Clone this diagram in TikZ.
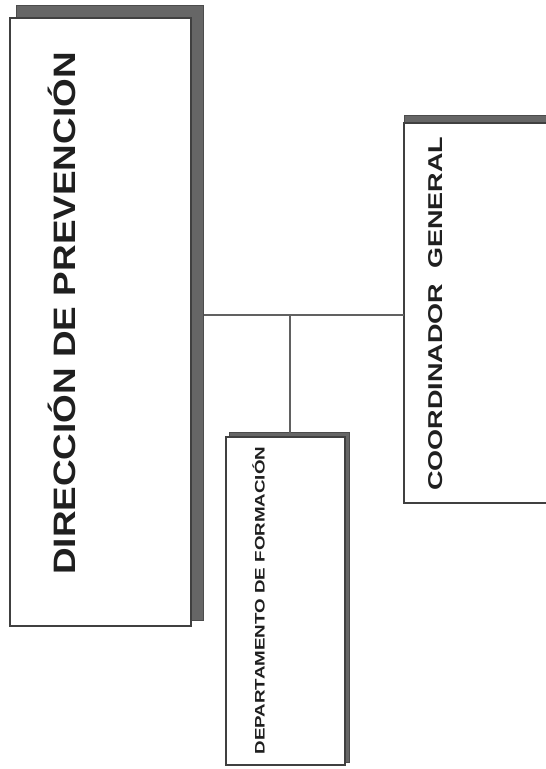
\documentclass[tikz,border=0pt]{standalone}
\usepackage{fontspec}
\setmainfont{Liberation Sans}
\begin{document}
\begin{tikzpicture}[x=1pt,y=-1pt,
  shadowbox/.style={fill=black!60, draw=black!70, line width=0.8pt},
  frontbox/.style={fill=white, draw=black!75, line width=1.2pt},
  conn/.style={draw=black!62, line width=1.5pt},
  lbl/.style={rotate=90, anchor=base, inner sep=0pt, font=\bfseries, text=black!88}]
\useasboundingbox (0,0) rectangle (546,769);
% Direccion box
\fill[shadowbox] (16,5) rectangle (203,620);
\draw[frontbox] (10,18) rectangle (191,626);
\node[lbl] (dirtxt) at (75,313.5) {\scalebox{1.19}[1]{\fontsize{31}{31}\selectfont DIRECCIÓN DE PREVENCIÓN}};
% Departamento box
\fill[shadowbox] (229,432) rectangle (349,762);
\draw[frontbox] (226,437) rectangle (345,765);
\node[lbl] (deptxt) at (264.5,600.5) {\scalebox{1.36}[1]{\fontsize{13.8}{14}\selectfont DEPARTAMENTO DE FORMACIÓN}};
% Coordinador box
\fill[shadowbox] (404,115) rectangle (547,123);
\fill[white] (404,123) rectangle (547,503);
\draw[frontbox] (547,123) -- (404,123) -- (404,503) -- (547,503);
\node[lbl] (cootxt) at (442.5,313.5) {\scalebox{1.35}[1]{\fontsize{20}{20}\selectfont COORDINADOR\ \ GENERAL}};
% connectors
\coordinate (dirR) at (204,315);
\coordinate (cooL) at (404,315);
\coordinate (junc) at (290,315);
\coordinate (depT) at (290,433);
\draw[conn] (dirR) -- (cooL);
\draw[conn] (junc) -- (depT);
\end{tikzpicture}
\end{document}
